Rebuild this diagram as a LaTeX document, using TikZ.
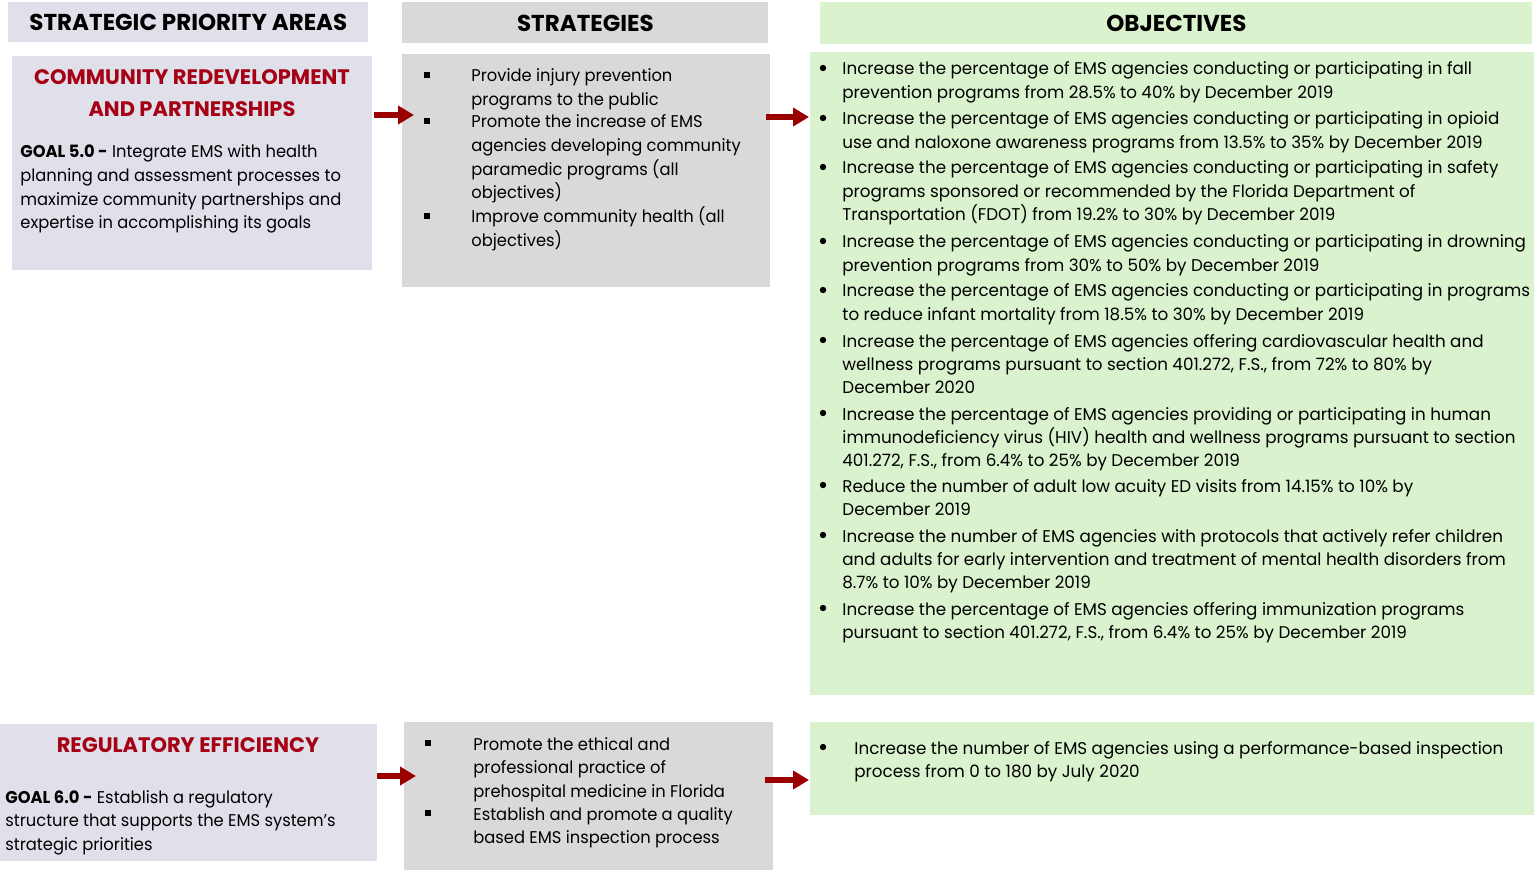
\documentclass[tikz,border=0pt]{standalone}
\usepackage{fontspec}
\setmainfont{Poppins}
\newfontfamily\narrowfont[FakeStretch=0.96]{Poppins}
\newfontfamily\objfont[FakeStretch=0.985]{Poppins}
\usetikzlibrary{arrows.meta,positioning}
\definecolor{lavfill}{RGB}{224,224,234}
\definecolor{greyfill}{RGB}{217,217,217}
\definecolor{greenfill}{RGB}{218,242,206}
\definecolor{titlered}{RGB}{165,0,20}
\definecolor{arrowred}{RGB}{155,0,0}
\newcommand{\lines}[1]{\begin{tabular}[t]{@{}l@{}}#1\end{tabular}}
\newcommand{\clines}[1]{\begin{tabular}[t]{@{}c@{}}#1\end{tabular}}

\begin{document}
\begin{tikzpicture}[
    x=0.5pt,y=-0.5pt,
    panel/.style={anchor=north west,inner sep=0pt},
    head/.style={panel,font=\fontsize{11.5}{13}\selectfont\bfseries},
    title/.style={anchor=base,inner sep=0pt,text=titlered,font=\fontsize{10.5}{16}\selectfont\bfseries},
    body/.style={anchor=base west,inner sep=0pt,font=\objfont\fontsize{8.5}{11.65}\selectfont},
    sbody/.style={anchor=base west,inner sep=0pt,font=\narrowfont\fontsize{8.5}{11.8}\selectfont},
    sq/.style={fill=black,inner sep=0pt,minimum size=2.9pt},
    dot/.style={circle,fill=black,inner sep=0pt,minimum size=3.2pt},
    bigarrow/.style={draw=arrowred,line width=3pt,-{Triangle[length=8pt,width=9pt]}}
    ]
        \useasboundingbox (0,0) rectangle (1534,871);

        % column headers
        \node [head,fill=lavfill,minimum width=180pt,minimum height=20pt] (hdarea) at (8,2) {STRATEGIC PRIORITY AREAS};
        \node [head,fill=greyfill,minimum width=183pt,minimum height=20.5pt] (hdstrat) at (402,2) {STRATEGIES};
        \node [head,fill=greenfill,minimum width=356pt,minimum height=21pt] (hdobj) at (820,2) {OBJECTIVES};

        % community redevelopment row
        \node [panel,fill=lavfill,minimum width=180pt,minimum height=107pt] (goalA) at (12,56) {};
        \node [panel,fill=greyfill,minimum width=184pt,minimum height=116.5pt] (stratA) at (402,54) {};
        \node [panel,fill=greenfill,minimum width=362pt,minimum height=321.5pt] (objA) at (810,52) {};

        \node [title] (titleA) at (192,85) {\clines{COMMUNITY REDEVELOPMENT\\AND PARTNERSHIPS}};
        \node [sbody] (goalAtxt) at (20,158) {\lines{\textbf{GOAL 5.0 -} Integrate EMS with health\\planning and assessment processes to\\maximize community partnerships and\\expertise in accomplishing its goals}};

        \node [sq] (sA1) at (427,75) {};
        \node [sq] (sA2) at (427,121) {};
        \node [sq] (sA3) at (427,216) {};
        \node [sbody] (stA1) at (471,82) {\lines{Provide injury prevention\\programs to the public}};
        \node [sbody] (stA2) at (471,128) {\lines{Promote the increase of EMS\\agencies developing community\\paramedic programs (all\\objectives)}};
        \node [sbody] (stA3) at (471,223) {\lines{Improve community health (all\\objectives)}};

        \foreach \y in {68,118,167,241,290,340,413,485,535,608}
            \node [dot] (od\y) at (823,\y) {};
        \node [body] (ob1) at (842,75) {\lines{Increase the percentage of EMS agencies conducting or participating in fall\\prevention programs from 28.5\% to 40\% by December 2019}};
        \node [body] (ob2) at (842,125) {\lines{Increase the percentage of EMS agencies conducting or participating in opioid\\use and naloxone awareness programs from 13.5\% to 35\% by December 2019}};
        \node [body] (ob3) at (842,174) {\lines{Increase the percentage of EMS agencies conducting or participating in safety\\programs sponsored or recommended by the Florida Department of\\Transportation (FDOT) from 19.2\% to 30\% by December 2019}};
        \node [body] (ob4) at (842,248) {\lines{Increase the percentage of EMS agencies conducting or participating in drowning\\prevention programs from 30\% to 50\% by December 2019}};
        \node [body] (ob5) at (842,297) {\lines{Increase the percentage of EMS agencies conducting or participating in programs\\to reduce infant mortality from 18.5\% to 30\% by December 2019}};
        \node [body] (ob6) at (842,347) {\lines{Increase the percentage of EMS agencies offering cardiovascular health and\\wellness programs pursuant to section 401.272, F.S., from 72\% to 80\% by\\December 2020}};
        \node [body] (ob7) at (842,420) {\lines{Increase the percentage of EMS agencies providing or participating in human\\immunodeficiency virus (HIV) health and wellness programs pursuant to section\\401.272, F.S., from 6.4\% to 25\% by December 2019}};
        \node [body] (ob8) at (842,492) {\lines{Reduce the number of adult low acuity ED visits from 14.15\% to 10\% by\\December 2019}};
        \node [body] (ob9) at (842,542) {\lines{Increase the number of EMS agencies with protocols that actively refer children\\and adults for early intervention and treatment of mental health disorders from\\8.7\% to 10\% by December 2019}};
        \node [body] (ob10) at (842,615) {\lines{Increase the percentage of EMS agencies offering immunization programs\\pursuant to section 401.272, F.S., from 6.4\% to 25\% by December 2019}};

        % regulatory efficiency row
        \node [panel,fill=lavfill,minimum width=188.5pt,minimum height=68.5pt] (goalB) at (0,724) {};
        \node [panel,fill=greyfill,minimum width=184.5pt,minimum height=74pt] (stratB) at (404,722) {};
        \node [panel,fill=greenfill,minimum width=362pt,minimum height=46.5pt] (objB) at (810,722) {};

        \node [title] (titleB) at (188,752) {REGULATORY EFFICIENCY};
        \node [sbody] (goalBtxt) at (5,803) {\lines{\textbf{GOAL 6.0 -} Establish a regulatory\\structure that supports the EMS system’s\\strategic priorities}};

        \node [sq] (sB1) at (428,743) {};
        \node [sq] (sB2) at (428,813) {};
        \node [sbody] (stB1) at (473,750) {\lines{Promote the ethical and\\professional practice of\\prehospital medicine in Florida}};
        \node [sbody] (stB2) at (473,820) {\lines{Establish and promote a quality\\based EMS inspection process}};

        \node [dot] (odB) at (823,747) {};
        \node [body] (obB) at (854,754) {\lines{Increase the number of EMS agencies using a performance-based inspection\\process from 0 to 180 by July 2020}};

        % arrows between columns
        \coordinate (a1s) at (374,115);
        \coordinate (a1e) at (414,115);
        \coordinate (a2s) at (766,117);
        \coordinate (a2e) at (809,117);
        \coordinate (a3s) at (377,776);
        \coordinate (a3e) at (416,776);
        \coordinate (a4s) at (765,780);
        \coordinate (a4e) at (809,780);
        \draw [bigarrow] (a1s) -- (a1e);
        \draw [bigarrow] (a2s) -- (a2e);
        \draw [bigarrow] (a3s) -- (a3e);
        \draw [bigarrow] (a4s) -- (a4e);
\end{tikzpicture}
\end{document}
